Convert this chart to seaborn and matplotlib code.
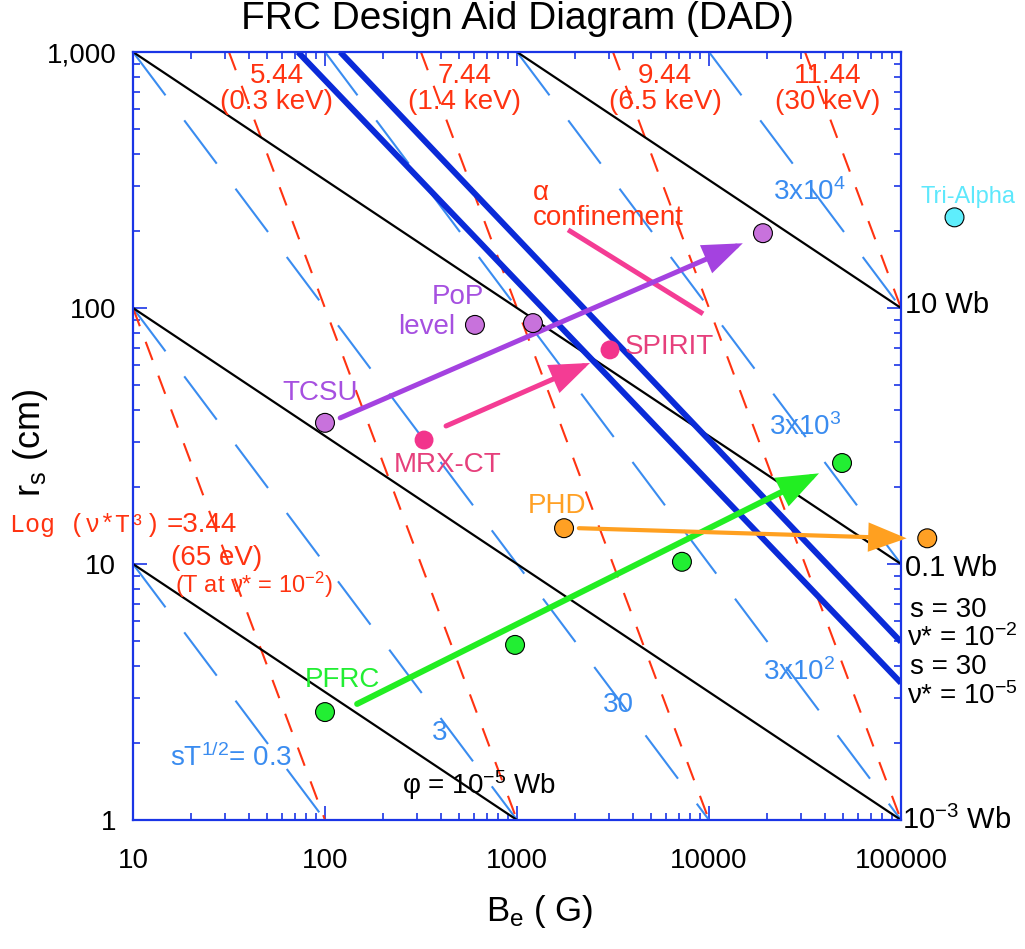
import matplotlib
matplotlib.use('Agg')
import matplotlib.pyplot as plt
import seaborn as sns
import pandas as pd
from matplotlib.ticker import NullFormatter

# ---- data ----------------------------------------------------------------
# black flux lines, phi = const  (B in G, r_s in cm, start / end points)
flux_B = [[10, 1e5], [1000, 1e5], [10, 1e5], [10, 1000]]
flux_r = [[1000, 10], [1000, 100], [100, 1], [10, 1]]

# red dashed lines, Log(nu* T^3) = 3.44 ... 11.44
nut_B = [[10, 100], [31.6, 1000], [316, 10000], [3162, 1e5], [31623, 1e5]]
nut_r = [[100, 1], [1000, 1], [1000, 1], [1000, 1], [1000, 100]]

# light blue dashed lines, s T^1/2 = 0.3 ... 3x10^4
sT_B = [[10, 100], [10, 1000], [10, 1e4], [100, 1e5], [1000, 1e5], [1e4, 1e5]]
sT_r = [[10, 1], [100, 1], [1000, 1], [1000, 1], [1000, 10], [1000, 100]]

# thick blue lines, s = 30 at nu* = 1e-2 and 1e-5
s30_B = [[120, 1e5], [72.3, 1e5]]
s30_r = [[1000, 4.96], [1000, 3.43]]

# devices
dev_name = ['Tri-Alpha', 'P1', 'PoP', 'P2', 'TCSU', 'SPIRIT', 'MRX-CT',
            'PHD', 'PHD2', 'G1', 'G2', 'G3', 'PFRC']
dev_B = [1.9e5, 19100, 604, 1211, 100, 3050, 328, 1758, 1.37e5, 49300, 7230, 977, 100]
dev_r = [226, 196, 85.9, 87.3, 35.6, 68.6, 30.5, 13.8, 12.6, 24.8, 10.2, 4.83, 2.64]
dev_color = ['#5eeefc', '#c872dc', '#c872dc', '#c872dc', '#c872dc', '#f2348c', '#f2348c',
             '#ffa024', '#ffa024', '#22ee33', '#22ee33', '#22ee33', '#22ee33']
dev_edge = [True, True, True, True, True, False, False, True, True, True, True, True, True]

# arrows: tail, tip
arr_tail = [(120, 37.2), (427, 34.6), (147, 2.84), (2100, 13.8)]
arr_tip = [(15000, 179), (2400, 61.0), (37400, 22.6), (107000, 12.6)]
arr_color = ['#a442e0', '#f43c94', '#22ee22', '#ffa020']
arr_lw = [3.6, 3.6, 4.3, 3.0]

# alpha confinement bar
alpha_B = [1845, 9310]
alpha_r = [202, 94.9]

RED = '#ff3311'
LBLUE = '#3a8cf0'
DBLUE = '#0a2ad8'
AXC = '#1a35e6'


def seg_frame(xs, ys):
    rows = []
    for i, (xx, yy) in enumerate(zip(xs, ys)):
        for a, b in zip(xx, yy):
            rows.append((i, a, b))
    return pd.DataFrame(rows, columns=['line', 'B', 'r'])


sns.set_theme(style='white')
plt.rcParams['font.family'] = ['Liberation Sans', 'DejaVu Sans']
plt.rcParams['mathtext.fontset'] = 'custom'
plt.rcParams['mathtext.rm'] = 'Liberation Sans'
plt.rcParams['mathtext.it'] = 'Liberation Sans:italic'
plt.rcParams['mathtext.bf'] = 'Liberation Sans:bold'
plt.rcParams['lines.scale_dashes'] = False
plt.rcParams['text.color'] = 'black'
plt.rcParams['axes.labelcolor'] = 'black'

fig = plt.figure(figsize=(10.25, 9.49), dpi=100)
ax = fig.add_axes([133 / 1025, 1 - 820 / 949, 768 / 1025, 768 / 949])
ax.set_xscale('log')
ax.set_yscale('log')

sns.lineplot(data=seg_frame(sT_B, sT_r), x='B', y='r', units='line', estimator=None,
             color=LBLUE, lw=1.5, linestyle=(0, (39, 22.5)), legend=False, ax=ax)
sns.lineplot(data=seg_frame(nut_B, nut_r), x='B', y='r', units='line', estimator=None,
             color=RED, lw=1.5, linestyle=(0, (14, 12)), legend=False, ax=ax)
sns.lineplot(data=seg_frame(flux_B, flux_r), x='B', y='r', units='line', estimator=None,
             color='black', lw=1.6, legend=False, ax=ax)
sns.lineplot(data=seg_frame(s30_B, s30_r), x='B', y='r', units='line', estimator=None,
             color=DBLUE, lw=4.3, legend=False, ax=ax, solid_capstyle='butt')
sns.lineplot(x=alpha_B, y=alpha_r, color='#f43c94', lw=3.6, ax=ax, solid_capstyle='butt')

for t, h, c, w in zip(arr_tail, arr_tip, arr_color, arr_lw):
    ax.annotate('', xy=h, xytext=t, annotation_clip=False,
                arrowprops=dict(arrowstyle='-|>,head_length=1.1,head_width=0.42',
                                color=c, lw=w, shrinkA=0, shrinkB=0,
                                mutation_scale=20, joinstyle='miter'))

dev = pd.DataFrame({'name': dev_name, 'B': dev_B, 'r': dev_r, 'edge': dev_edge})
pal = dict(zip(dev_name, dev_color))
for flag, ec in [(True, 'black'), (False, 'none')]:
    sub = dev[dev['edge'] == flag]
    sns.scatterplot(data=sub, x='B', y='r', hue='name', palette=pal, s=185,
                    edgecolor=ec, linewidth=0.8, legend=False, clip_on=False,
                    zorder=6, ax=ax)

ax.set_xlim(10, 1e5)
ax.set_ylim(1, 1000)
ax.set_xticks([10, 100, 1000, 10000, 100000], ['10', '100', '1000', '10000', '100000'])
ax.set_yticks([1, 10, 100, 1000], ['1', '10', '100', '1,000'])
ax.xaxis.set_minor_formatter(NullFormatter())
ax.yaxis.set_minor_formatter(NullFormatter())
ax.tick_params(which='both', direction='in', top=True, right=True, bottom=True, left=True,
               color=AXC, labelsize=20, labelcolor='black', width=1.2)
ax.tick_params(which='major', length=10)
ax.tick_params(which='minor', length=5)
ax.tick_params(axis='x', which='major', pad=20)
ax.tick_params(axis='y', which='major', pad=12)
for s in ax.spines.values():
    s.set_color(AXC)
    s.set_linewidth(1.6)

fig.text(517 / 1025, 1 - 19 / 949, 'FRC Design Aid Diagram (DAD)', fontsize=28,
         ha='center', va='center', color='black')
ax.set_xlabel(r'$\mathregular{B_e}$ ( G)', fontsize=25, labelpad=14)
ax.xaxis.label.set_x(0.53)
ax.set_ylabel(r'$\mathregular{r_s}$ (cm)', fontsize=26)
ax.yaxis.set_label_coords(-0.108, 0.491)

# ---- annotations ---------------------------------------------------------
labels = [
    ('5.44\n(0.3 keV)', 56, 717, RED, 20, 'center'),
    ('7.44\n(1.4 keV)', 536, 717, RED, 20, 'center'),
    ('9.44\n(6.5 keV)', 5900, 717, RED, 20, 'center'),
    ('11.44\n(30 keV)', 41700, 717, RED, 20, 'center'),
    ('α', 1211, 281, RED, 20, 'left'),
    ('confinement', 1211, 225, RED, 20, 'left'),
    ('PoP', 493, 110, '#a650e0', 20, 'center'),
    ('level', 340, 84.3, '#a650e0', 20, 'center'),
    ('TCSU', 94.2, 46.6, '#a650e0', 20, 'center'),
    ('SPIRIT', 3652, 70.5, '#e6407c', 20, 'left'),
    ('MRX-CT', 437, 24.4, '#e6407c', 20, 'center'),
    ('PHD', 1615, 16.9, '#ffa024', 20, 'center'),
    ('PFRC', 124, 3.52, '#22ee33', 20, 'center'),
    ('Tri-Alpha', 223000, 272, '#5ee8fc', 17, 'center'),
    (r'3x10$^{\mathregular{4}}$', 21500, 284, LBLUE, 20, 'left'),
    (r'3x10$^{\mathregular{3}}$', 20500, 34.3, LBLUE, 20, 'left'),
    (r'3x10$^{\mathregular{2}}$', 19100, 3.78, LBLUE, 20, 'left'),
    ('30', 3357, 2.81, LBLUE, 20, 'center'),
    ('3', 397, 2.19, LBLUE, 20, 'center'),
    (r'sT$^{\mathregular{1/2}}$= 0.3', 15.6, 1.75, LBLUE, 20, 'left'),
    (r'φ = 10$^{\mathregular{-5}}$ Wb', 252, 1.37, 'black', 20, 'left'),
    ('10 Wb', 105000, 103, 'black', 21, 'left'),
    ('0.1 Wb', 105000, 9.64, 'black', 21, 'left'),
    ('s = 30', 111000, 6.6, 'black', 20, 'left'),
    (r'ν* = 10$^{\mathregular{-2}}$', 108000, 5.15, 'black', 20, 'left'),
    ('s = 30', 111000, 3.95, 'black', 20, 'left'),
    (r'ν* = 10$^{\mathregular{-5}}$', 108000, 3.05, 'black', 20, 'left'),
    (r'10$^{\mathregular{-3}}$ Wb', 101000, 1.0, 'black', 21, 'left'),
    ('=3.44', 15.0, 14.2, RED, 20, 'left'),
    ('(65 eV)', 15.8, 10.6, RED, 20, 'left'),
    (r'(T at ν* = 10$^{\mathregular{-2}}$)', 16.6, 8.28, RED, 17, 'left'),
]
for txt, x, y, c, fs, ha in labels:
    ax.text(x, y, txt, color=c, fontsize=fs, ha=ha, va='center', linespacing=1.0,
            clip_on=False, zorder=7)

ax.text(2.29, 14.2, 'Log (ν*T³)', color=RED, fontsize=18, ha='left', va='center',
        family=['Liberation Mono', 'DejaVu Sans Mono'], zorder=7)

fig.savefig('out.png', dpi=100)
